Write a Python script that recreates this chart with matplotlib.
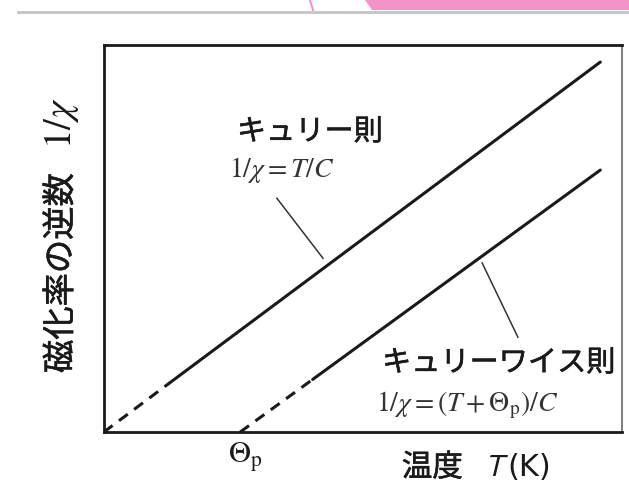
import numpy as np
import matplotlib
matplotlib.use("Agg")
import matplotlib.pyplot as plt
import matplotlib.patheffects as pe
from matplotlib.patches import Polygon

plt.rcParams['font.family'] = ['Noto Sans CJK JP', 'DejaVu Sans']
plt.rcParams['mathtext.fontset'] = 'stix'

# schematic values (axes run 0..1)
theta_p = 0.263
curie_T = [0.0, 0.127, 0.958]
curie_y = [0.0, 0.127, 0.956]
cw_T = [theta_p, 0.403, 0.958]
cw_y = [0.0, 0.136, 0.677]

ylabel_jp = "磁化率の逆数"
ylabel_sym = r"$1/\chi$"
xlabel_jp = "温度"
curie_name = "キュリー則"
cw_name = "キュリーワイス則"
curie_eq = r"$1/\chi=T/C$"
cw_eq = r"$1/\chi=(T+\Theta_{\rm p})/C$"

fig = plt.figure(figsize=(6.29, 5.03), dpi=100)
ax = fig.add_axes([0.165, 0.141, 0.824, 0.7695])

ink = '#1a1a1a'
lw = 2.2
# medium-weight look for the gothic labels
medium = [pe.withStroke(linewidth=0.4, foreground=ink)]

# dashed low-T parts, solid high-T parts
ax.plot(curie_T[:2], curie_y[:2], color=ink, lw=lw, dashes=(3.6, 2.6))
ax.plot(curie_T[1:], curie_y[1:], color=ink, lw=lw, solid_capstyle='round')
ax.plot(cw_T[:2], cw_y[:2], color=ink, lw=lw, dashes=(3.6, 2.6))
ax.plot(cw_T[1:], cw_y[1:], color=ink, lw=lw, solid_capstyle='round')

# leader lines
ax.plot([0.334, 0.423], [0.604, 0.449], color='#333333', lw=1.1)
ax.plot([0.730, 0.799], [0.437, 0.245], color='#333333', lw=1.1)

ax.set_xlim(0, 1)
ax.set_ylim(0, 1)
ax.set_xticks([])
ax.set_yticks([])
for s in ax.spines.values():
    s.set_linewidth(2.0)
    s.set_color(ink)
ax.spines['right'].set_linewidth(1.2)
ax.spines['right'].set_color('#666666')

# labels
ax.text(0.257, 0.775, curie_name, fontsize=21, color=ink, va='center', ha='left',
        path_effects=medium)
ax.text(0.242, 0.677, curie_eq, fontsize=20, color='#333333', va='center', ha='left')
ax.text(0.537, 0.178, cw_name, fontsize=21, color=ink, va='center', ha='left',
        path_effects=medium)
ax.text(0.526, 0.070, cw_eq, fontsize=20, color='#333333', va='center', ha='left')

ax.text(0.240, -0.065, r"$\Theta_{\rm p}$", fontsize=22, color=ink, ha='left', va='center')
ax.text(0.575, -0.092, xlabel_jp, fontsize=22, color=ink, ha='left', va='center',
        path_effects=medium)
ax.text(0.757, -0.092, "$\\mathsf{T}$", fontsize=22, color=ink, ha='center', va='center')
ax.text(0.778, -0.092, "(K)", fontsize=22, color=ink, ha='left', va='center',
        family=['DejaVu Sans'])

fig.text(61 / 629, 1 - 273 / 503, ylabel_jp, rotation=90, fontsize=24,
         color=ink, ha='center', va='center', path_effects=medium)
fig.text(61 / 629, 1 - 123 / 503, ylabel_sym, rotation=90, fontsize=28, color=ink,
         ha='center', va='center')

# scan artefacts at the top edge
fig.add_artist(Polygon([[365 / 629, 1], [1, 1], [1, 1 - 10 / 503], [372 / 629, 1 - 10 / 503]],
                       closed=True, transform=fig.transFigure, facecolor='#f294c8',
                       edgecolor='none'))
fig.add_artist(plt.Line2D([310 / 629, 313 / 629], [1, 1 - 10 / 503], transform=fig.transFigure,
                          color='#f294c8', lw=1.5))
fig.add_artist(plt.Line2D([18 / 629, 1], [1 - 12 / 503, 1 - 12 / 503], transform=fig.transFigure,
                          color='#c4c4c4', lw=2.0))

fig.savefig("out.png", dpi=100)
